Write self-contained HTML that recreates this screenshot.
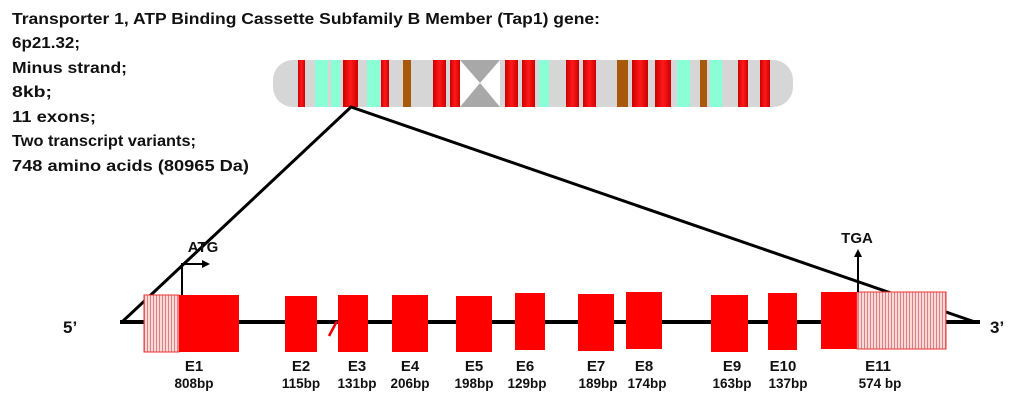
<!DOCTYPE html>
<html><head><meta charset="utf-8"><style>
html,body{margin:0;padding:0;background:#fff;}
svg{display:block;}
text{font-family:"Liberation Sans",sans-serif;font-weight:bold;fill:#111;}
</style></head><body>
<svg width="1024" height="402" viewBox="0 0 1024 402" xmlns="http://www.w3.org/2000/svg">
<defs>
<linearGradient id="rg" x1="0" x2="1"><stop offset="0" stop-color="#c00"/><stop offset="0.5" stop-color="#ff1a1a"/><stop offset="1" stop-color="#c00"/></linearGradient>
<pattern id="hatch" width="3" height="4" patternUnits="userSpaceOnUse"><rect width="3" height="4" fill="#f6dada"/><rect width="1" height="4" fill="#e08080"/></pattern>
</defs>
<g font-size="16">
<text x="12" y="24" textLength="588" lengthAdjust="spacingAndGlyphs">Transporter 1, ATP Binding Cassette Subfamily B Member (Tap1) gene:</text>
<text x="12" y="48" textLength="68" lengthAdjust="spacingAndGlyphs">6p21.32;</text>
<text x="12" y="73" textLength="115" lengthAdjust="spacingAndGlyphs">Minus strand;</text>
<text x="12" y="97" textLength="40" lengthAdjust="spacingAndGlyphs">8kb;</text>
<text x="12" y="122" textLength="84" lengthAdjust="spacingAndGlyphs">11 exons;</text>
<text x="12" y="146" textLength="184" lengthAdjust="spacingAndGlyphs">Two transcript variants;</text>
<text x="12" y="171" textLength="237" lengthAdjust="spacingAndGlyphs">748 amino acids (80965 Da)</text>
</g>
<!-- chromosome -->
<rect x="273" y="60" width="520" height="47" rx="20" fill="#d6d6d6"/>
<rect x="460" y="60" width="40" height="47" fill="#fff"/>
<polygon points="460,60 500,60 480,83 500,107 460,107 480,83" fill="#a8a8a8"/>
<g fill="url(#rg)">
<rect x="298" y="60" width="7" height="47"/><rect x="343" y="60" width="15" height="47"/><rect x="381" y="60" width="8" height="47"/>
<rect x="433" y="60" width="13" height="47"/><rect x="450" y="60" width="10" height="47"/>
<rect x="505" y="60" width="13" height="47"/><rect x="522" y="60" width="13" height="47"/><rect x="566" y="60" width="13" height="47"/>
<rect x="583" y="60" width="13" height="47"/><rect x="632" y="60" width="16" height="47"/><rect x="655" y="60" width="16" height="47"/>
<rect x="738" y="60" width="10" height="47"/><rect x="760" y="60" width="10" height="47"/>
</g>
<g fill="#8affd6">
<rect x="315" y="60" width="13" height="47"/><rect x="331" y="60" width="9" height="47"/><rect x="367" y="60" width="13" height="47"/>
<rect x="539" y="60" width="10" height="47"/><rect x="677" y="60" width="13" height="47"/><rect x="710" y="60" width="12" height="47"/>
</g>
<g fill="#a85a0a"><rect x="403" y="60" width="8" height="47"/><rect x="617" y="60" width="11" height="47"/><rect x="700" y="60" width="7" height="47"/></g>
<!-- zoom lines -->
<polyline points="122,322 351,107 975,322" fill="none" stroke="#000" stroke-width="3"/>
<line x1="120" y1="322" x2="980" y2="322" stroke="#000" stroke-width="4"/>
<!-- exons -->
<rect x="144" y="295" width="35" height="57" fill="url(#hatch)" stroke="#e33" stroke-width="1"/>
<g fill="#f00">
<rect x="179" y="295" width="60" height="57"/>
<rect x="285" y="296" width="32" height="56"/>
<rect x="338" y="295" width="30" height="57"/>
<rect x="392" y="295" width="36" height="57"/>
<rect x="456" y="296" width="36" height="56"/>
<rect x="515" y="293" width="30" height="57"/>
<rect x="578" y="294" width="36" height="57"/>
<rect x="626" y="292" width="36" height="57"/>
<rect x="711" y="295" width="37" height="57"/>
<rect x="768" y="293" width="29" height="57"/>
<rect x="821" y="292" width="36" height="57"/>
</g>
<rect x="857" y="292" width="89" height="57" fill="url(#hatch)" stroke="#e33" stroke-width="1"/>
<line x1="329" y1="336" x2="337" y2="321" stroke="#e00" stroke-width="2.5"/>
<!-- ATG -->
<polyline points="182,295 182,264 204,264" fill="none" stroke="#000" stroke-width="2"/>
<polygon points="210,264 202,260 202,268" fill="#000"/>
<text x="203" y="252" font-size="15" text-anchor="middle">ATG</text>
<!-- TGA -->
<line x1="858" y1="292" x2="858" y2="256" stroke="#000" stroke-width="2"/>
<polygon points="858,249 854,257 862,257" fill="#000"/>
<text x="857" y="243" font-size="15" text-anchor="middle">TGA</text>
<text x="63" y="333" font-size="17">5’</text>
<text x="990" y="333" font-size="17">3’</text>
<g font-size="15" text-anchor="middle">
<text x="194" y="371">E1</text><text x="194" y="388" font-size="13.5">808bp</text>
<text x="301" y="371">E2</text><text x="301" y="388" font-size="13.5">115bp</text>
<text x="357" y="371">E3</text><text x="357" y="388" font-size="13.5">131bp</text>
<text x="410" y="371">E4</text><text x="410" y="388" font-size="13.5">206bp</text>
<text x="474" y="371">E5</text><text x="474" y="388" font-size="13.5">198bp</text>
<text x="525" y="371">E6</text><text x="527" y="388" font-size="13.5">129bp</text>
<text x="596" y="371">E7</text><text x="598" y="388" font-size="13.5">189bp</text>
<text x="644" y="371">E8</text><text x="647" y="388" font-size="13.5">174bp</text>
<text x="732" y="371">E9</text><text x="732" y="388" font-size="13.5">163bp</text>
<text x="783" y="371">E10</text><text x="788" y="388" font-size="13.5">137bp</text>
<text x="878" y="371">E11</text><text x="880" y="388" font-size="13.5">574 bp</text>
</g>
</svg>
</body></html>
